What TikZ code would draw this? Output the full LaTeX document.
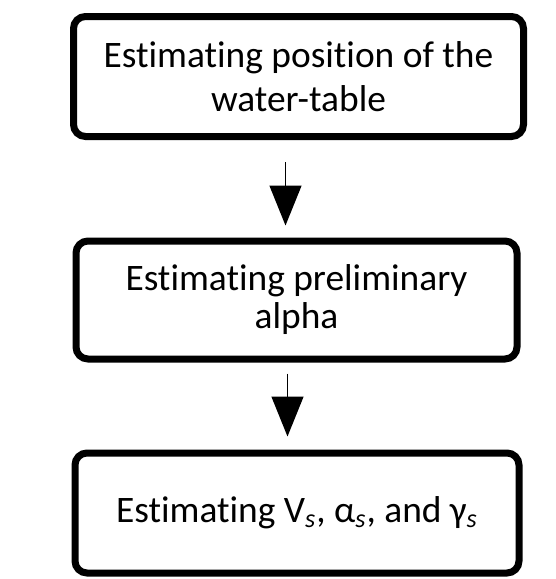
\documentclass[tikz,border=0pt]{standalone}
\usepackage{fontspec}
\setmainfont[Ligatures=NoCommon]{Carlito}
\usetikzlibrary{arrows.meta}

\begin{document}
\begin{tikzpicture}[x=0.5pt, y=-0.5pt,
  stepbox/.style={draw, line width=3.5pt, rounded corners=6pt, align=center,
    font=\fontsize{18.7}{22}\selectfont, inner sep=0pt},
  flow/.style={line width=0.7pt, -{Triangle[width=16pt, length=20pt]}}]

\useasboundingbox (0,0) rectangle (556,579);

% Water-table
\node[stepbox, minimum width=225pt, minimum height=60pt] (wtable) at (298.5,76.5)
  {Estimating position of the\\water-table};

% Preliminary alpha
\node[stepbox, minimum width=220.5pt, minimum height=59pt,
  font=\fontsize{18.7}{19}\selectfont] (alpha) at (296.5,300)
  {Estimating preliminary\\alpha};

% Vs, alpha_s, gamma_s
\node[stepbox, minimum width=222pt, minimum height=60pt] (vsbox) at (297,513)
  {Estimating V\textsubscript{\itshape s}, α\textsubscript{\itshape s}, and γ\textsubscript{\itshape s}};

% Arrows
\draw[flow, shorten <=11pt, shorten >=6pt] ([xshift=-6.5pt]wtable.south) -- ([xshift=-6.5pt]wtable.south |- alpha.north);
\draw[flow, shorten <=5.5pt, shorten >=6.5pt] ([xshift=-4.5pt]alpha.south) -- ([xshift=-4.5pt]alpha.south |- vsbox.north);

\end{tikzpicture}
\end{document}
